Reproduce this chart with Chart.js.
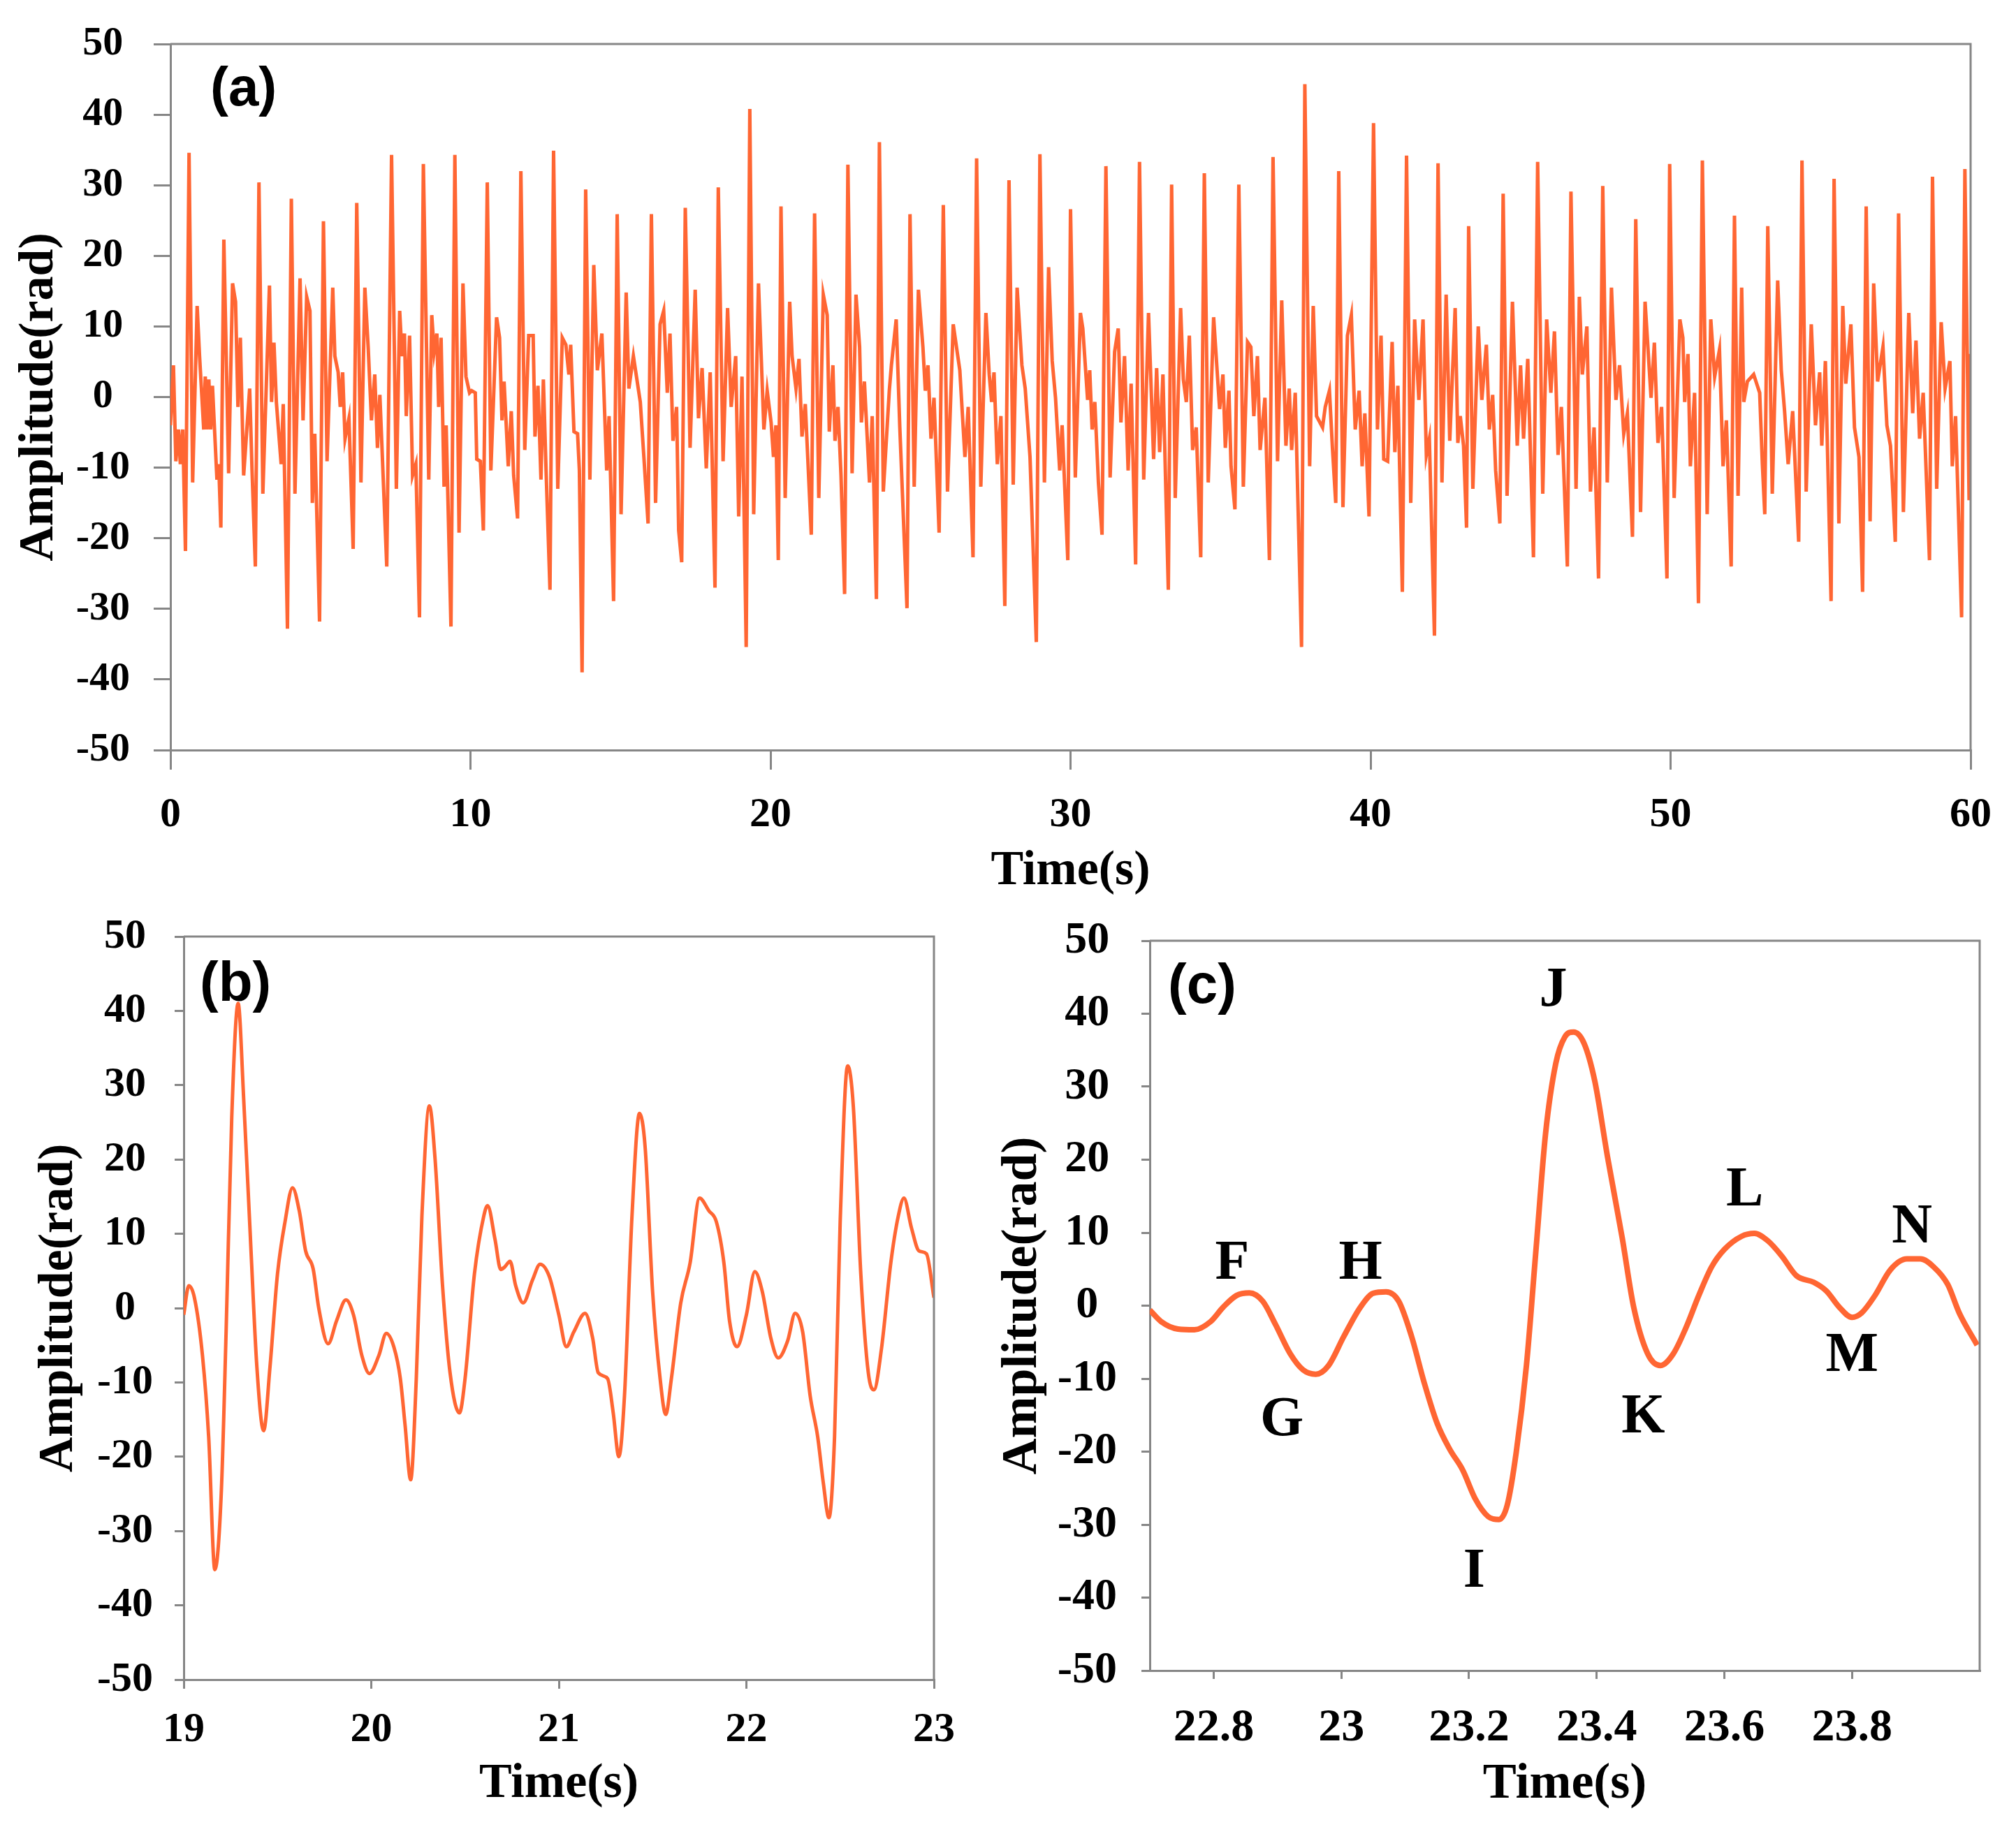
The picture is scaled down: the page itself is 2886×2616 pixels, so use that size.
<!DOCTYPE html>
<html>
<head>
<meta charset="utf-8">
<title>Amplitude vs time</title>
<script src="https://cdn.jsdelivr.net/npm/chart.js@4.4.1/dist/chart.umd.min.js"></script>
<style>
  html, body { margin: 0; padding: 0; background: #fff; }
  #page { position: relative; width: 2886px; height: 2616px; background: #fff; }
  canvas { position: absolute; }
</style>
</head>
<body>
<div id="page">
  <canvas id="chartA" width="2886" height="1300" style="left:0;top:0"></canvas>
  <canvas id="chartB" width="1400" height="1336" style="left:0;top:1280px"></canvas>
  <canvas id="chartC" width="1466" height="1336" style="left:1420px;top:1280px"></canvas>
</div>
<script>
// (a) full record, 0-60 s (vertices of the polyline)
const aTime = [
  0.00,0.10,0.18,0.27,0.33,0.41,0.50,0.62,0.74,0.89, 0.97,1.11,1.16,1.22,1.28,1.34,1.40,1.47,1.55,1.61,
  1.68,1.78,1.94,2.07,2.17,2.25,2.33,2.44,2.64,2.72, 2.83,2.95,3.08,3.30,3.37,3.45,3.53,3.69,3.76,3.90,
  4.03,4.15,4.32,4.42,4.54,4.65,4.73,4.81,4.97,5.10, 5.22,5.41,5.48,5.59,5.66,5.74,5.82,5.95,6.09,6.21,
  6.35,6.48,6.59,6.70,6.81,6.90,6.98,7.21,7.37,7.53, 7.64,7.72,7.80,7.86,7.97,8.07,8.18,8.30,8.43,8.61,
  8.71,8.79,8.88,8.94,9.02,9.12,9.19,9.35,9.48,9.62, 9.75,9.85,9.97,
  10.04,10.16,10.21,10.33,10.43,10.56,10.68,10.87,10.97,11.05, 11.12,11.26,11.36,11.44,11.57,11.68,11.81,11.94,12.09,12.15,
  12.25,12.35,12.43,12.52,12.65,12.77,12.91,13.06,13.18,13.28, 13.34,13.45,13.57,13.63,13.72,13.84,13.98,14.11,14.23,14.38,
  14.54,14.62,14.77,14.89,15.02,15.19,15.28,15.43,15.66,15.78, 15.92,16.03,16.17,16.32,16.44,16.56,16.65,16.75,16.87,16.94,
  17.04,17.16,17.32,17.49,17.60,17.72,17.86,17.99,18.15,18.26, 18.42,18.57,18.69,18.84,18.94,19.05,19.19,19.31,19.44,19.60,
  19.78,19.89,
  20.02,20.10,20.18,20.26,20.35,20.49,20.64,20.72,20.85,20.95, 21.05,21.16,21.36,21.47,21.61,21.76,21.89,21.96,22.08,22.15,
  22.25,22.35,22.47,22.58,22.72,22.85,22.97,23.03,23.13,23.30, 23.39,23.53,23.63,23.76,23.96,24.03,24.19,24.31,24.55,24.65,
  24.79,24.93,25.08,25.16,25.25,25.35,25.45,25.62,25.76,25.90, 26.09,26.31,26.48,26.59,26.75,26.87,27.01,27.18,27.29,27.37,
  27.45,27.56,27.68,27.81,27.95,28.09,28.22,28.38,28.49,28.65, 28.86,28.98,29.13,29.27,29.39,29.50,29.64,29.72,29.91,
  30.00,30.16,30.33,30.41,30.57,30.64,30.72,30.81,30.93,31.05, 31.18,31.32,31.47,31.59,31.68,31.80,31.92,32.02,32.17,32.30,
  32.44,32.60,32.77,32.87,32.97,33.08,33.26,33.37,33.49,33.67, 33.76,33.86,33.96,34.07,34.19,34.34,34.46,34.59,34.77,34.97,
  35.08,35.16,35.28,35.35,35.48,35.61,35.76,35.90,36.01,36.11, 36.23,36.32,36.48,36.63,36.75,36.90,37.04,37.18,37.29,37.37,
  37.49,37.70,37.81,37.97,38.09,38.20,38.40,38.49,38.63,38.73, 38.84,38.94,39.08,39.23,39.36,39.49,39.62,39.72,39.81,39.95,
  40.10,40.23,40.35,40.44,40.57,40.72,40.81,40.91,41.06,41.20, 41.34,41.47,41.61,41.75,41.86,41.96,42.13,42.25,42.38,42.52,
  42.64,42.82,42.91,42.99,43.10,43.20,43.27,43.41,43.59,43.71, 43.86,43.96,44.07,44.17,44.31,44.42,44.55,44.73,44.89,45.00,
  45.10,45.24,45.43,45.57,45.74,45.87,46.01,46.13,46.25,46.36, 46.56,46.68,46.85,46.96,47.06,47.21,47.33,47.45,47.60,47.74,
  47.89,48.03,48.18,48.30,48.44,48.56,48.73,48.84,49.00,49.15, 49.35,49.46,49.58,49.70,49.88,49.97,
  50.12,50.31,50.41,50.47,50.58,50.66,50.80,50.93,51.06,51.22, 51.34,51.47,51.63,51.75,51.86,52.02,52.13,52.25,52.37,52.44,
  52.56,52.77,52.97,53.06,53.14,53.24,53.39,53.57,53.69,53.80, 53.92,54.07,54.27,54.38,54.52,54.69,54.83,54.97,55.04,55.16,
  55.35,55.45,55.61,55.74,55.84,56.01,56.13,56.28,56.40,56.52, 56.65,56.77,56.90,57.08,57.21,57.33,57.49,57.60,57.76,57.94,
  58.07,58.18,58.30,58.42,58.63,58.73,58.87,59.02,59.15,59.31, 59.39,59.50,59.70,59.81,59.95,60.00
];
const aAmp = [
  -4.0,4.5,-9.1,-4.6,-9.5,-4.6,-21.8,34.6,-12.1,12.9, 5.8,-4.6,2.9,-4.6,2.5,-4.6,1.6,-4.6,-11.7,-9.5,
  -18.5,22.3,-10.8,16.1,13.5,-1.4,8.4,-11.1,1.2,-10.4, -24.0,30.4,-13.7,15.8,-0.7,7.7,-0.7,-9.5,-1.0,-32.8,
  28.1,-13.7,16.8,-3.3,14.2,12.2,-15.0,-5.2,-31.8,24.9, -9.1,15.5,5.8,3.5,-1.4,3.5,-5.9,-3.0,-21.5,27.5,
  -12.1,15.5,7.1,-3.3,3.2,-7.2,0.3,-24.0,34.3,-13.0, 12.2,5.8,9.0,-2.7,8.7,-11.1,-9.5,-31.2,33.0,-11.7,
  11.6,6.4,9.0,-1.4,8.4,-12.7,-4.0,-32.5,34.3,-19.2, 16.1,2.9,0.6,
  0.9,0.6,-8.8,-9.1,-18.9,30.4,-10.4,11.3,8.4,-3.3, 2.2,-9.8,-2.0,-11.1,-17.2,32.0,-7.5,8.7,8.7,-5.6,
  1.6,-11.7,2.5,-10.4,-27.3,34.9,-13.0,8.4,7.4,3.2, 7.4,-4.9,-5.2,-10.4,-39.0,29.4,-11.7,18.7,3.8,9.0,
  -10.4,-2.7,-28.9,25.9,-16.6,14.8,1.2,5.8,-0.7,-8.5, -17.9,25.9,-15.0,10.3,12.2,0.6,9.0,-6.2,-1.4,-18.9,
  -23.4,26.8,-7.2,15.2,-3.0,4.1,-10.1,3.5,-27.0,29.7, -9.1,12.6,-1.4,5.8,-16.9,2.9,-35.4,40.8,-16.6,16.1,
  -4.6,0.9,
  -3.6,-8.5,-4.0,-23.1,27.0,-14.3,13.5,5.8,1.2,5.4, -5.6,-1.0,-19.5,26.0,-14.3,14.5,11.6,-4.9,4.5,-6.2,
  -1.4,-11.1,-27.9,32.9,-10.8,14.5,7.1,-3.6,2.2,-12.1, -2.7,-28.6,36.1,-13.4,0.9,4.5,11.0,-4.3,-29.9,25.9,
  -12.7,15.2,7.1,0.9,4.5,-5.9,-0.1,-19.2,27.2,-13.4, 10.3,3.8,-8.5,-1.4,-22.7,33.8,-12.7,11.9,3.2,-0.7,
  3.5,-9.5,-2.7,-29.6,30.7,-12.4,15.5,4.5,1.2,-8.5, -34.7,34.4,-12.1,18.4,5.1,-0.1,-10.4,-4.0,-23.1,
  26.6,-11.4,11.9,9.7,-0.4,3.8,-4.6,-0.7,-12.1,-19.5, 32.7,-11.4,6.4,9.7,-3.6,5.8,-10.4,1.9,-23.7,33.3,
  -11.7,11.9,-8.8,4.1,-7.8,3.2,-27.3,30.1,-14.3,12.6, 2.5,-0.7,8.7,-7.5,-4.3,-22.7,31.7,-12.1,11.3,-1.7,
  3.2,-7.2,0.9,-9.8,-15.9,30.1,-12.7,7.8,7.1,-2.7, 5.8,-7.5,-0.1,-23.1,34.0,-9.1,13.7,-6.9,1.2,-7.5,
  0.6,-35.4,44.3,-9.8,12.9,-2.7,-4.3,-1.4,0.9,-7.2, -15.0,32.0,-15.6,8.7,11.6,-4.6,0.9,-9.8,-2.3,-16.9,
  38.8,-4.6,8.7,-8.8,-9.1,7.8,-7.8,1.6,-27.6,34.2, -15.0,11.0,-0.4,11.0,-8.2,-5.9,-33.8,33.1,-12.1,14.5,
  -6.2,12.6,-6.5,-2.7,-6.9,-18.5,24.2,-13.0,10.0,-0.4, 7.4,-4.6,0.3,-10.4,-17.9,28.8,-14.0,13.5,-6.9,4.5,
  -5.9,5.4,-22.7,33.3,-13.7,11.0,0.6,9.3,-8.2,-1.4, -24.0,29.1,-13.0,14.2,3.2,10.0,-13.4,-4.3,-25.7,29.9,
  -12.1,15.5,-0.4,4.5,-5.2,-2.3,-19.8,25.2,-16.3,13.5, -0.1,7.7,-6.5,-1.4,-25.7,33.0,
  -14.3,11.0,8.4,-0.7,6.1,-9.8,0.6,-29.2,33.5,-16.6, 11.0,2.9,6.7,-9.8,-3.3,-24.0,25.7,-14.0,15.5,-0.7,
  2.2,3.2,0.6,-9.5,-16.6,24.2,-13.7,16.5,3.8,-2.0, -9.5,-2.0,-20.5,33.5,-13.4,10.3,-4.0,3.5,-6.9,5.1,
  -28.9,30.9,-17.9,12.9,1.9,10.3,-4.3,-8.5,-27.6,27.0, -17.6,16.1,2.2,7.1,-4.0,-6.9,-20.5,26.0,-16.3,11.9,
  -2.3,8.0,-5.9,0.6,-23.1,31.2,-13.0,10.6,1.2,5.1, -9.8,-2.7,-31.2,32.3,-14.6,6.1
];

// (b) detail 19-23 s
const bTime = [
  19.0,19.027,19.057,19.1,19.133,19.166,19.2,19.226,19.256,19.29,
  19.32,19.356,19.39,19.426,19.46,19.5,19.54,19.58,19.616,19.65,
  19.69,19.72,19.77,19.815,19.865,19.905,19.95,19.99,20.04,20.08,
  20.12,20.155,20.18,20.21,20.24,20.27,20.31,20.34,20.38,20.42,
  20.47,20.5,20.55,20.6,20.62,20.66,20.69,20.71,20.74,20.77,
  20.81,20.86,20.9,20.95,21.0,21.04,21.08,21.14,21.18,21.21,
  21.26,21.29,21.32,21.35,21.39,21.43,21.46,21.5,21.54,21.57,
  21.6,21.65,21.7,21.75,21.8,21.84,21.88,21.91,21.95,22.0,
  22.045,22.085,22.13,22.17,22.22,22.26,22.3,22.34,22.38,22.41,
  22.44,22.47,22.5,22.54,22.57,22.61,22.65,22.68,22.72,22.77,
  22.81,22.84,22.88,22.92,22.96,23.0
];
const bAmp = [
  -0.9,3.0,1.4,-6.4,-17.3,-35.2,-25,-3.2,25.6,41.0,
  28,9.2,-7.9,-16.5,-7.9,4.6,11.6,16.2,13.1,7.7,
  5.3,0,-4.8,-1.7,1.1,-0.9,-6.4,-8.8,-6.4,-3.4,
  -5.2,-9.5,-15.7,-23.1,-9.5,12.4,27.2,20.1,3,-8.7,
  -14.1,-9.5,4.6,12.4,13.8,9.2,5.2,5.5,6.3,3,
  0.7,3.8,5.9,4.2,-0.9,-5.2,-3.2,-0.7,-4,-8.7,
  -9.5,-14.1,-20,-11.8,12.4,26.2,21.7,2.2,-9.5,-14.3,
  -9.5,0.7,6.1,14.8,13.1,11.6,6.1,-1.7,-5.2,-0.9,
  4.9,2.2,-4,-6.7,-4.4,-0.7,-3.2,-11.8,-17.3,-23.5,
  -28.2,-17.3,11.6,32.6,27.2,4.6,-8.7,-11,-5.5,6.1,
  12.4,14.8,10.8,7.7,7.3,1.4
];

// (c) detail 22.7-24 s with marked extrema
const cTime = [
  22.7,22.718,22.744,22.77,22.795,22.815,22.836,22.856,22.877,22.897,
  22.92,22.94,22.96,22.98,23.004,23.03,23.05,23.07,23.09,23.11,
  23.13,23.15,23.17,23.19,23.21,23.23,23.247,23.26,23.274,23.29,
  23.305,23.32,23.336,23.35,23.364,23.38,23.397,23.417,23.44,23.458,
  23.48,23.5,23.52,23.54,23.56,23.58,23.6,23.627,23.647,23.668,
  23.69,23.713,23.74,23.76,23.78,23.8,23.815,23.836,23.86,23.886,
  23.907,23.928,23.95,23.968,23.996
];
const cAmp = [
  -0.6,-2.2,-3.2,-3.3,-2.2,-0.2,1.4,1.75,0.6,-2.6,
  -6.6,-8.8,-9.4,-8.2,-4.2,-0.2,1.7,1.9,0.6,-4.2,
  -10.6,-16.1,-19.7,-22.5,-26.5,-28.9,-29.3,-27.3,-20.1,-8.2,
  7.7,23.6,33.2,36.8,37.5,36,30.8,20.4,9.3,-0.2,
  -6.6,-8.2,-6.6,-3,1.4,5.3,7.7,9.5,9.9,8.9,
  6.8,4.1,3.2,2,-0.2,-1.6,-1,1.4,4.9,6.4,
  6.4,5.3,2.9,-1,-5.4
];
const cTicks = [22.8, 23, 23.2, 23.4, 23.6, 23.8];
const cLetters = ['F', 'G', 'H', 'I', 'J', 'K', 'L', 'M', 'N'];
const cLetterTime = [22.829, 22.907, 23.03, 23.208, 23.332, 23.473, 23.632, 23.8, 23.894];
const cLetterAmp = [5.7, -15.8, 5.7, -36.5, 43.1, -15.4, 15.7, -7.0, 10.6];

const SERIF = "'Liberation Serif', 'Times New Roman', serif";
const SANS = "'Liberation Sans', Arial, sans-serif";
const AXIS_GREY = '#868686';
const LINE_COLOR = '#ff6633';

function toPoints(xs, ys) {
  return xs.map((x, i) => ({ x: x, y: ys[i] }));
}

// frame (top/right), panel tag and point letters
const panelDecor = {
  id: 'panelDecor',
  afterDatasetsDraw(chart, args, o) {
    const { ctx, chartArea: a, scales } = chart;
    ctx.save();
    ctx.strokeStyle = AXIS_GREY;
    ctx.lineWidth = 3;
    ctx.beginPath();
    ctx.moveTo(a.left, a.top);
    ctx.lineTo(a.right, a.top);
    ctx.lineTo(a.right, a.bottom);
    ctx.stroke();
    ctx.fillStyle = '#000';
    ctx.textBaseline = 'middle';
    ctx.textAlign = 'left';
    ctx.font = 'bold ' + o.tagSize + 'px ' + SANS;
    ctx.fillText(o.tag, a.left + o.tagDx, a.top + o.tagDy);
    if (o.letters) {
      ctx.textAlign = 'center';
      ctx.font = 'bold ' + o.letterSize + 'px ' + SERIF;
      o.letters.forEach((s, i) => {
        ctx.fillText(s, scales.x.getPixelForValue(o.letterX[i]), scales.y.getPixelForValue(o.letterY[i]));
      });
    }
    ctx.restore();
  }
};

function scale(s) {
  const cfg = {
    type: 'linear',
    min: s.min,
    max: s.max,
    border: { display: true, color: AXIS_GREY, width: 3 },
    grid: { display: true, drawOnChartArea: false, drawTicks: true, tickLength: s.tickLength, color: AXIS_GREY, lineWidth: 3 },
    ticks: {
      stepSize: s.step,
      color: '#000',
      font: { family: SERIF, weight: 'bold', size: s.tickSize, lineHeight: 1 },
      padding: s.tickPad,
      crossAlign: s.crossAlign || 'near',
      maxRotation: 0,
      autoSkip: false
    },
    title: {
      display: true,
      text: s.title,
      color: '#000',
      font: { family: SERIF, weight: 'bold', size: s.titleSize, lineHeight: 1 },
      padding: s.titlePad
    },
    afterFit: s.afterFit
  };
  if (s.tickValues) {
    cfg.afterBuildTicks = (sc) => { sc.ticks = s.tickValues.map(v => ({ value: v })); };
    cfg.ticks.callback = (v) => String(Number(v.toFixed(1)));
  }
  return cfg;
}

function makeChart(id, p) {
  return new Chart(document.getElementById(id), {
    type: 'line',
    data: {
      datasets: [{
        data: p.points,
        borderColor: LINE_COLOR,
        borderWidth: p.lineWidth,
        pointRadius: 0,
        fill: false,
        tension: p.smooth ? 0.4 : 0,
        cubicInterpolationMode: p.smooth ? 'monotone' : 'default'
      }]
    },
    options: {
      responsive: false,
      animation: false,
      devicePixelRatio: 1,
      events: [],
      layout: { padding: p.padding },
      plugins: { legend: { display: false }, tooltip: { enabled: false }, panelDecor: p.decor },
      scales: { x: p.x, y: p.y }
    },
    plugins: [panelDecor]
  });
}

makeChart('chartA', {
  points: toPoints(aTime, aAmp),
  lineWidth: 5,
  smooth: false,
  padding: { top: 52, right: 64, left: 0, bottom: 0 },
  decor: { tag: '(a)', tagSize: 78, tagDx: 57, tagDy: 66 },
  x: scale({ min: 0, max: 60, step: 10, tickLength: 28, tickSize: 60, tickPad: 35, title: 'Time(s)', titleSize: 70,
    titlePad: { top: 0, bottom: 17 }, afterFit: (sc) => { sc.height = 226; } }),
  y: scale({ min: -50, max: 50, step: 10, tickLength: 24, tickSize: 58, tickPad: 34, crossAlign: 'center',
    title: 'Amplitude(rad)', titleSize: 70, titlePad: { top: 22, bottom: 0 }, afterFit: (sc) => { sc.width = 244; } })
});

makeChart('chartB', {
  points: toPoints(bTime, bAmp),
  lineWidth: 5,
  smooth: true,
  padding: { top: 32, right: 63, left: 0, bottom: 0 },
  decor: { tag: '(b)', tagSize: 80, tagDx: 23, tagDy: 70 },
  x: scale({ min: 19, max: 23, step: 1, tickLength: 13, tickSize: 60, tickPad: 29, title: 'Time(s)', titleSize: 70,
    titlePad: { top: 0, bottom: 26 }, afterFit: (sc) => { sc.height = 211; } }),
  y: scale({ min: -50, max: 50, step: 10, tickLength: 13, tickSize: 60, tickPad: 31, crossAlign: 'center',
    title: 'Amplitude(rad)', titleSize: 70, titlePad: { top: 50, bottom: 0 }, afterFit: (sc) => { sc.width = 263; } })
});

makeChart('chartC', {
  points: toPoints(cTime, cAmp),
  lineWidth: 8,
  smooth: true,
  padding: { top: 41, right: 52, left: 0, bottom: 0 },
  decor: { tag: '(c)', tagSize: 80, tagDx: 26, tagDy: 67, letters: cLetters, letterX: cLetterTime, letterY: cLetterAmp, letterSize: 80 },
  x: scale({ min: 22.7, max: 24.0, tickValues: cTicks, tickLength: 12, tickSize: 66, tickPad: 38, title: 'Time(s)', titleSize: 72,
    titlePad: { top: 0, bottom: 25 }, afterFit: (sc) => { sc.height = 224; } }),
  y: scale({ min: -50, max: 50, step: 10, tickLength: 12, tickSize: 64, tickPad: 35, crossAlign: 'center',
    title: 'Amplitude(rad)', titleSize: 72, titlePad: { top: 8, bottom: 0 }, afterFit: (sc) => { sc.width = 226; } })
});
</script>
</body>
</html>
